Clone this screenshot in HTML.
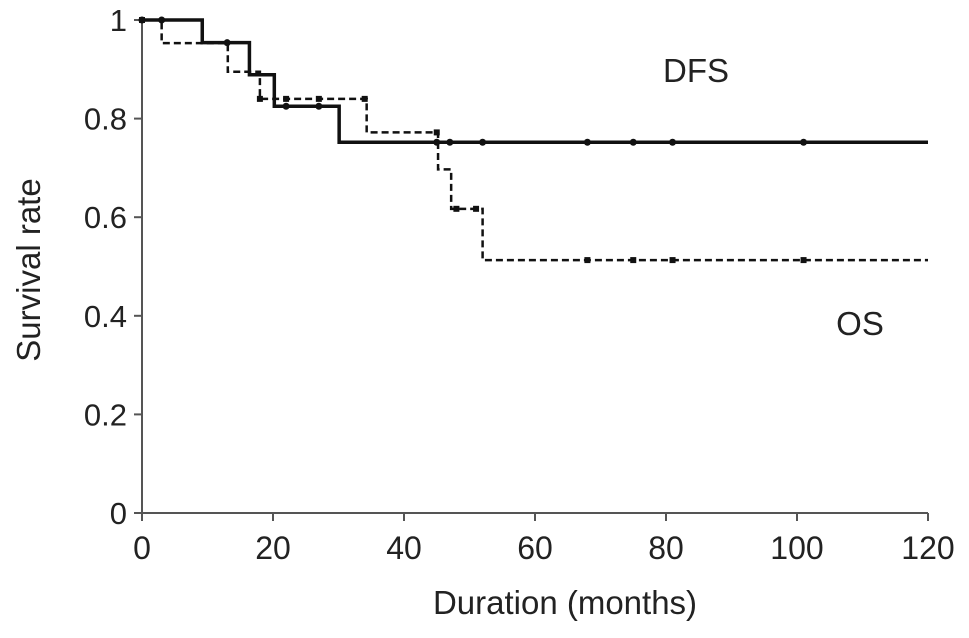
<!DOCTYPE html>
<html><head><meta charset="utf-8"><style>
body{margin:0;background:#fff}
svg{display:block;font-family:"Liberation Sans",Arial,sans-serif}
</style></head><body>
<svg width="969" height="638">
<g id="axes"></g><g id="series"></g>
<text x="565" y="614" font-size="33" text-anchor="middle" fill="#222">Duration (months)</text>
<text transform="translate(40,270) rotate(-90)" font-size="33" text-anchor="middle" fill="#222">Survival rate</text>
<text x="696" y="82" font-size="33" text-anchor="middle" fill="#222">DFS</text>
<text x="860" y="335" font-size="33" text-anchor="middle" fill="#222">OS</text>
</svg>
<script>
const xTicks=[0,20,40,60,80,100,120];
const yTicks=[0,0.2,0.4,0.6,0.8,1];
const yTickLabels=["0","0.2","0.4","0.6","0.8","1"];
const dfsTimes=[0,9.2,16.4,20.2,30.1,120];
const dfsSurv=[1,0.954,0.889,0.825,0.752,0.752];
const dfsCensor=[0,3,13,22,27,45,47,52,68,75,81,101];
const osTimes=[0,3,13.1,18,34.3,45.2,47.2,52,120];
const osSurv=[1,0.953,0.895,0.84,0.772,0.697,0.617,0.513,0.513];
const osCensor=[0,18,22,27,34,45,48,51,68,75,81,101];
const NS="http://www.w3.org/2000/svg";
const X=v=>142+v*786/120, Y=v=>513-v*493;
function mk(t,a,p){const e=document.createElementNS(NS,t);for(const k in a)e.setAttribute(k,a[k]);p.appendChild(e);return e;}
const ax=document.getElementById('axes'), se=document.getElementById('series');
let l=mk('line',{x1:X(0),y1:Y(0),x2:X(120),y2:Y(0),stroke:'#555','stroke-width':2},ax);


l=mk('line',{x1:X(0),y1:Y(0),x2:X(0),y2:Y(1),stroke:'#555','stroke-width':2},ax);


xTicks.forEach(v=>{mk('line',{x1:X(v),y1:Y(0),x2:X(v),y2:Y(0)+8,stroke:'#555','stroke-width':2},ax);
 const t=mk('text',{x:X(v),y:559,'font-size':32,'text-anchor':'middle',fill:'#222'},ax);t.textContent=v;
 
 });
yTicks.forEach((v,i)=>{mk('line',{x1:X(0)-8,y1:Y(v),x2:X(0),y2:Y(v),stroke:'#555','stroke-width':2},ax);
 const t=mk('text',{x:127,y:Y(v)+11,'font-size':31,'text-anchor':'end',fill:'#222'},ax);t.textContent=yTickLabels[i];
 
 });
function step(T,S){let d=`M${X(T[0])},${Y(S[0])}`;for(let i=1;i<T.length;i++){d+=`H${X(T[i])}V${Y(S[i])}`;}return d;}
function survAt(T,S,t){let s=S[0];for(let i=0;i<T.length;i++){if(T[i]<=t)s=S[i];}return s;}
let p=mk('path',{d:step(osTimes,osSurv),fill:'none',stroke:'#111','stroke-width':2.5,'stroke-dasharray':'7,4'},se);


p=mk('path',{d:step(dfsTimes,dfsSurv),fill:'none',stroke:'#111','stroke-width':3.5},se);


osCensor.forEach(t=>{const c=mk('rect',{x:X(t)-3,y:Y(survAt(osTimes,osSurv,t))-3,width:6,height:6,fill:'#111'},se);
 
 });
dfsCensor.forEach(t=>{const c=mk('circle',{cx:X(t),cy:Y(survAt(dfsTimes,dfsSurv,t)),r:3.5,fill:'#111'},se);
 
 });
</script>
</body></html>
